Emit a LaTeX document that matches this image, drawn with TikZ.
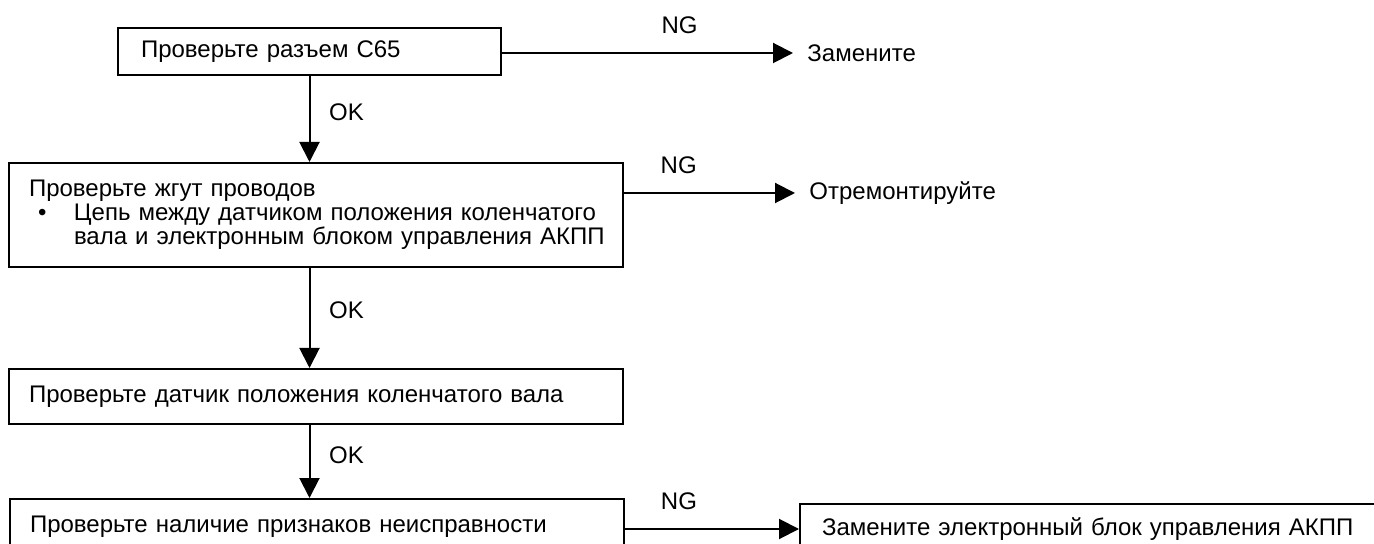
\documentclass[tikz,border=0pt]{standalone}
\usepackage{fontspec}
\setmainfont{Liberation Sans}
\usetikzlibrary{arrows.meta, positioning, calc}

\begin{document}
\begin{tikzpicture}[x=0.5pt, y=-0.5pt,
  every node/.style={font=\fontsize{12}{12}\selectfont},
  stepbox/.style={draw, line width=1pt, anchor=north west, align=left, text width=287pt, inner xsep=10pt, inner ysep=0pt},
  result/.style={anchor=west, inner xsep=7pt},
  flow/.style={line width=1pt, -{Triangle[length=10pt, width=10pt]}},
  ok/.style={right, pos=.42, xshift=6pt},
  ng/.style={above=6pt}]
  \useasboundingbox (0,0) rectangle (1374,544);
  \clip (0,0) rectangle (1374,544);

  % check steps
  \node[stepbox, text width=168.5pt, inner xsep=11.5pt, minimum height=23.5pt] (conn) at (117,27) {Проверьте разъем С65};
  \node[stepbox, minimum height=52pt] (harness) at (8,162) {Проверьте жгут проводов\\
    \mbox{\hspace*{4.5pt}\makebox[18pt][l]{\textbullet}Цепь между датчиком положения коленчатого}\\
    \mbox{\hspace*{22.5pt}вала и электронным блоком управления АКПП}};
  \node[stepbox, minimum height=27.5pt] (sensor) at (8,368) {Проверьте датчик положения коленчатого вала};
  \node[stepbox, minimum height=27.5pt] (symptom) at (9,498) {Проверьте наличие признаков неисправности};

  % results
  \node[result] (replace) at (793,53) {Замените};
  \node[result] (repair) at (795,193) {Отремонтируйте};
  \node[stepbox, text width=300pt, inner xsep=11pt, minimum height=25pt] (ecu) at (799,503) {Замените электронный блок управления АКПП};

  % OK branch
  \draw[flow] (conn.south) -- node[ok] {OK} (conn.south |- harness.north);
  \draw[flow] (harness.south -| conn.south) -- node[ok] {OK} (sensor.north -| conn.south);
  \draw[flow] (sensor.south -| conn.south) -- node[ok] {OK} (symptom.north -| conn.south);

  % NG branch
  \draw[flow] (conn.east |- replace.west) -- node[ng, pos=.61] {NG} (replace.west);
  \draw[flow] (harness.east |- repair.west) -- node[ng, pos=.32] {NG} (repair.west);
  \draw[flow] (symptom.east |- ecu.west) -- node[ng, pos=.31] {NG} (ecu.west);
\end{tikzpicture}
\end{document}
